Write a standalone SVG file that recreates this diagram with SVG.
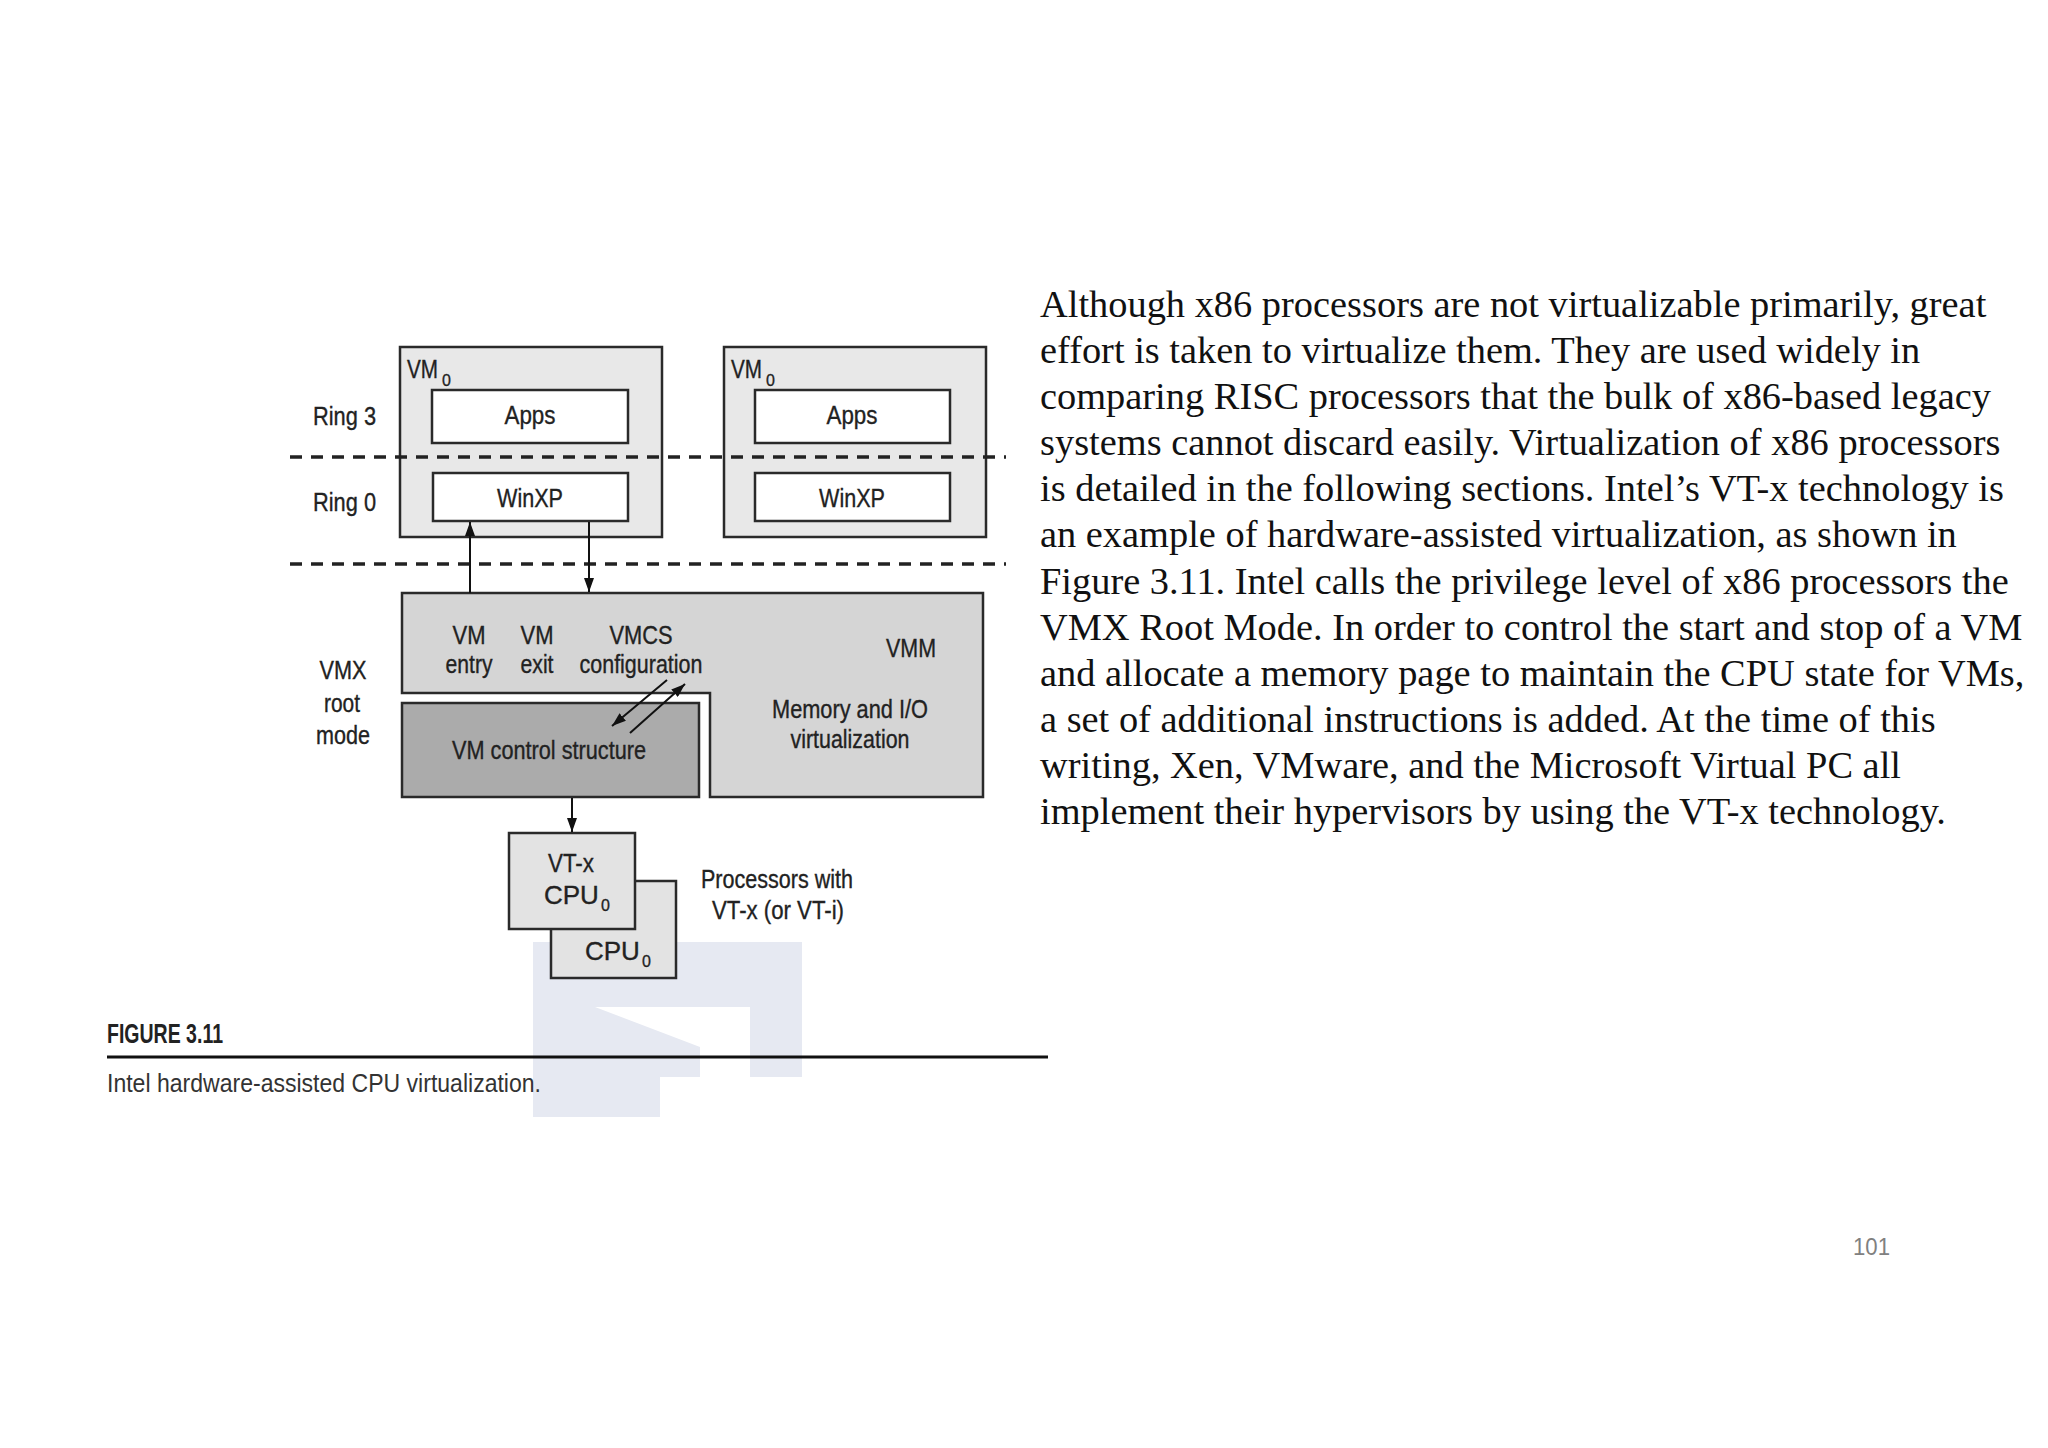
<svg xmlns="http://www.w3.org/2000/svg" width="2048" height="1448" viewBox="0 0 2048 1448">
<style>
.lbl{font-family:"Liberation Sans",Arial,sans-serif;fill:#222;font-size:26px;stroke:#222;stroke-width:0.35}
.sub{font-size:16px;stroke-width:0.3}
.mid{text-anchor:middle}
.box{stroke:#2a2a2a;stroke-width:2.5}
.vm{fill:#e8e8e8}
.white{fill:#ffffff}
.dash{stroke:#222;stroke-width:3.5;stroke-dasharray:12 9;fill:none}
.conn{stroke:#111;stroke-width:2;fill:none}
.para{font-family:"Liberation Serif","Times New Roman",serif;font-size:38.4px;fill:#111}
</style>
<defs>
<marker id="ah" viewBox="0 0 14 10" refX="14" refY="5" markerWidth="14" markerHeight="10" orient="auto" markerUnits="userSpaceOnUse"><path d="M0,0 L14,5 L0,10 z" fill="#111"/></marker>
</defs>
<rect width="2048" height="1448" fill="#ffffff"/>
<g id="watermark" fill="#e6e9f2">
<path d="M533,942 H802 V1077 H750 V1007 H595 L700,1047 V1077 H660 V1117 H533 Z"/>
</g>
<g id="ring-labels">
<text class="lbl" x="313" y="425" textLength="63" lengthAdjust="spacingAndGlyphs">Ring 3</text>
<text class="lbl" x="313" y="511" textLength="63" lengthAdjust="spacingAndGlyphs">Ring 0</text>
</g>
<g id="vm1">
<rect class="box vm" x="400" y="347" width="262" height="190"/>
<text class="lbl" x="407" y="378" font-size="25"><tspan textLength="31" lengthAdjust="spacingAndGlyphs">VM</tspan><tspan class="sub" dx="4" dy="8">0</tspan></text>
</g>
<g id="apps1">
<rect class="box white" x="432" y="390" width="196" height="53"/>
<text class="lbl mid" x="530" y="424" textLength="51" lengthAdjust="spacingAndGlyphs">Apps</text>
</g>
<g id="winxp1">
<rect class="box white" x="433" y="473" width="195" height="48"/>
<text class="lbl mid" x="530" y="507" textLength="66" lengthAdjust="spacingAndGlyphs">WinXP</text>
</g>
<g id="vm2">
<rect class="box vm" x="724" y="347" width="262" height="190"/>
<text class="lbl" x="731" y="378" font-size="25"><tspan textLength="31" lengthAdjust="spacingAndGlyphs">VM</tspan><tspan class="sub" dx="4" dy="8">0</tspan></text>
</g>
<g id="apps2">
<rect class="box white" x="755" y="390" width="195" height="53"/>
<text class="lbl mid" x="852" y="424" textLength="51" lengthAdjust="spacingAndGlyphs">Apps</text>
</g>
<g id="winxp2">
<rect class="box white" x="755" y="473" width="195" height="48"/>
<text class="lbl mid" x="852" y="507" textLength="66" lengthAdjust="spacingAndGlyphs">WinXP</text>
</g>
<g id="dashed-lines">
<line class="dash" x1="290" y1="457" x2="1006" y2="457"/>
<line class="dash" x1="290" y1="564" x2="1006" y2="564"/>
</g>
<g id="vmx-label">
<text class="lbl mid" x="343" y="679" textLength="47" lengthAdjust="spacingAndGlyphs">VMX</text>
<text class="lbl mid" x="342" y="712" textLength="36" lengthAdjust="spacingAndGlyphs">root</text>
<text class="lbl mid" x="343" y="744" textLength="54" lengthAdjust="spacingAndGlyphs">mode</text>
</g>
<g id="vmm">
<path class="box" fill="#d5d5d5" d="M402,593 H983 V797 H710 V693 H402 Z"/>
<text class="lbl mid" x="469" y="644" textLength="33" lengthAdjust="spacingAndGlyphs">VM</text>
<text class="lbl mid" x="469" y="673" textLength="47" lengthAdjust="spacingAndGlyphs">entry</text>
<text class="lbl mid" x="537" y="644" textLength="33" lengthAdjust="spacingAndGlyphs">VM</text>
<text class="lbl mid" x="537" y="673" textLength="33" lengthAdjust="spacingAndGlyphs">exit</text>
<text class="lbl mid" x="641" y="644" textLength="63" lengthAdjust="spacingAndGlyphs">VMCS</text>
<text class="lbl mid" x="641" y="673" textLength="123" lengthAdjust="spacingAndGlyphs">configuration</text>
<text class="lbl mid" x="911" y="657" textLength="50" lengthAdjust="spacingAndGlyphs">VMM</text>
<text class="lbl mid" x="850" y="718" textLength="156" lengthAdjust="spacingAndGlyphs">Memory and I/O</text>
<text class="lbl mid" x="850" y="748" textLength="119" lengthAdjust="spacingAndGlyphs">virtualization</text>
</g>
<g id="vmcs">
<rect class="box" fill="#ababab" x="402" y="703" width="297" height="94"/>
<text class="lbl mid" x="549" y="759" textLength="194" lengthAdjust="spacingAndGlyphs">VM control structure</text>
</g>
<g id="cpu0">
<rect class="box" fill="#e3e3e3" x="551" y="881" width="125" height="97"/>
<text class="lbl" x="585" y="960" font-size="21">CPU<tspan class="sub" dx="2" dy="7">0</tspan></text>
</g>
<g id="vtx-cpu0">
<rect class="box" fill="#e3e3e3" x="509" y="833" width="126" height="96"/>
<text class="lbl mid" x="571" y="872" textLength="46" lengthAdjust="spacingAndGlyphs">VT-x</text>
<text class="lbl" x="544" y="904" font-size="21">CPU<tspan class="sub" dx="2" dy="7">0</tspan></text>
</g>
<g id="processors-label">
<text class="lbl mid" x="777" y="888" textLength="152" lengthAdjust="spacingAndGlyphs">Processors with</text>
<text class="lbl mid" x="778" y="919" textLength="132" lengthAdjust="spacingAndGlyphs">VT-x (or VT-i)</text>
</g>
<g id="connectors">
<line class="conn" x1="470" y1="593" x2="470" y2="522" marker-end="url(#ah)"/>
<line class="conn" x1="589" y1="522" x2="589" y2="592" marker-end="url(#ah)"/>
<line class="conn" x1="667" y1="680" x2="612" y2="726" marker-end="url(#ah)"/>
<line class="conn" x1="630" y1="733" x2="685" y2="684" marker-end="url(#ah)"/>
<line class="conn" x1="572" y1="798" x2="572" y2="832" marker-end="url(#ah)"/>
</g>
<g id="caption">
<text x="107" y="1043" font-family="'Liberation Sans',Arial,sans-serif" font-weight="bold" font-size="28" fill="#222" textLength="116" lengthAdjust="spacingAndGlyphs">FIGURE 3.11</text>
<line x1="107" y1="1057" x2="1048" y2="1057" stroke="#111" stroke-width="3"/>
<text x="107" y="1092" font-family="'Liberation Sans',Arial,sans-serif" font-size="26" fill="#333" textLength="434" lengthAdjust="spacingAndGlyphs">Intel hardware-assisted CPU virtualization.</text>
</g>
<g id="paragraph" class="para">
<text x="1040" y="317">Although x86 processors are not virtualizable primarily, great</text>
<text x="1040" y="363">effort is taken to virtualize them. They are used widely in</text>
<text x="1040" y="409">comparing RISC processors that the bulk of x86-based legacy</text>
<text x="1040" y="455">systems cannot discard easily. Virtualization of x86 processors</text>
<text x="1040" y="501">is detailed in the following sections. Intel’s VT-x technology is</text>
<text x="1040" y="547">an example of hardware-assisted virtualization, as shown in</text>
<text x="1040" y="594">Figure 3.11. Intel calls the privilege level of x86 processors the</text>
<text x="1040" y="640">VMX Root Mode. In order to control the start and stop of a VM</text>
<text x="1040" y="686">and allocate a memory page to maintain the CPU state for VMs,</text>
<text x="1040" y="732">a set of additional instructions is added. At the time of this</text>
<text x="1040" y="778">writing, Xen, VMware, and the Microsoft Virtual PC all</text>
<text x="1040" y="824">implement their hypervisors by using the VT-x technology.</text>
</g>
<g id="page-number">
<text x="1853" y="1255" font-family="'Liberation Sans',Arial,sans-serif" font-size="24" fill="#808080" textLength="37" lengthAdjust="spacingAndGlyphs">101</text>
</g>
</svg>
